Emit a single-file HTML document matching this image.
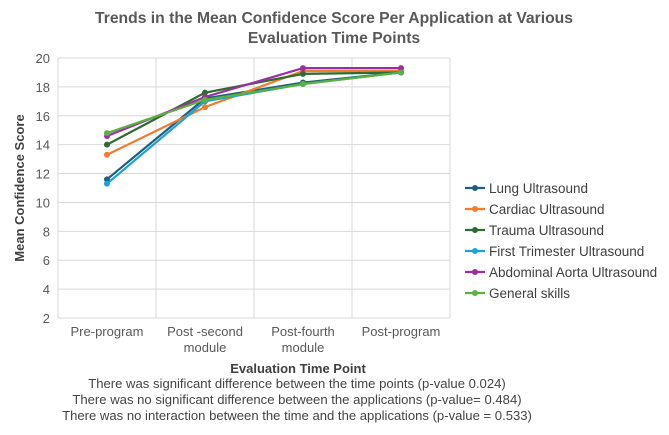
<!DOCTYPE html>
<html><head><meta charset="utf-8"><style>
body{margin:0;background:#fff;font-family:"Liberation Sans",sans-serif}
svg{display:block}
</style></head><body>
<svg id="chart" width="669" height="435" font-family="Liberation Sans, sans-serif">
<text x="334" y="23" text-anchor="middle" font-size="15.7" font-weight="bold" fill="#595959">Trends in the Mean Confidence Score Per Application at Various</text>
<text x="334" y="43" text-anchor="middle" font-size="15.7" font-weight="bold" fill="#595959">Evaluation Time Points</text>
<g id="grid"></g><g id="series"></g><g id="legend"></g>
<text transform="translate(24,188) rotate(-90)" text-anchor="middle" font-size="13" font-weight="bold" fill="#404040">Mean Confidence Score</text>
<text x="298" y="373" text-anchor="middle" font-size="13" font-weight="bold" fill="#404040">Evaluation Time Point</text>
<text x="297" y="388" text-anchor="middle" font-size="13.1" fill="#444">There was significant difference between the time points (p-value 0.024)</text>
<text x="297" y="404" text-anchor="middle" font-size="13.1" fill="#444">There was no significant difference between the applications (p-value= 0.484)</text>
<text x="297" y="420" text-anchor="middle" font-size="13.1" fill="#444">There was no interaction between the time and the applications (p-value = 0.533)</text>
</svg>
<script>
const categories=[["Pre-program"],["Post -second","module"],["Post-fourth","module"],["Post-program"]];
const yTicks=[2,4,6,8,10,12,14,16,18,20];
const seriesNames=["Lung Ultrasound","Cardiac Ultrasound","Trauma Ultrasound","First Trimester Ultrasound","Abdominal Aorta Ultrasound","General skills"];
const lung=[11.6,17.2,18.3,19.0];
const cardiac=[13.3,16.6,19.1,19.1];
const trauma=[14.0,17.6,18.9,19.0];
const firstTri=[11.3,17.0,18.2,19.0];
const aorta=[14.6,17.3,19.3,19.3];
const general=[14.8,17.1,18.2,19.0];
const seriesValues=[lung,cardiac,trauma,firstTri,aorta,general];
const colors=["#1f5f7a","#ed7d31","#2e6b2e","#1ea1d6","#9b2ea3","#5cb040"];
const NS="http://www.w3.org/2000/svg";
const L=58,R=450,T=58,B=318;
const x=i=>L+(R-L)/categories.length*(i+0.5);
const y=v=>B-(v-2)/18*(B-T);
function mk(t,a,p){const e=document.createElementNS(NS,t);for(const k in a)e.setAttribute(k,a[k]);p.appendChild(e);return e;}
const grid=document.getElementById('grid');
yTicks.forEach(v=>{
  const l=mk('line',{x1:L,x2:R,y1:y(v),y2:y(v),stroke:'#d9d9d9'},grid);
  
  
  const t=mk('text',{x:L-8,y:y(v)+5,'text-anchor':'end','font-size':13,fill:'#595959'},grid);t.textContent=v;
  
  
});
for(let i=0;i<=categories.length;i++){
  const gx=L+(R-L)/categories.length*i;
  const l=mk('line',{x1:gx,x2:gx,y1:T,y2:B,stroke:'#d9d9d9'},grid);
  
  
}
categories.forEach((c,i)=>{
  c.forEach((s,j)=>{
    const t=mk('text',{x:x(i),y:B+18+j*16,'text-anchor':'middle','font-size':13,fill:'#595959'},grid);t.textContent=s;
    
    
  });
});
const sg=document.getElementById('series');
seriesValues.forEach((vals,si)=>{
  const g=mk('g',{},sg);
  
  
  const pl=mk('polyline',{points:vals.map((v,i)=>x(i)+','+y(v)).join(' '),fill:'none',stroke:colors[si],'stroke-width':2.2},g);
  
  
  vals.forEach((v,i)=>{
    const c=mk('circle',{cx:x(i),cy:y(v),r:3,fill:colors[si]},g);
    
    
  });
});
const lg=document.getElementById('legend');
seriesNames.forEach((n,i)=>{
  const g=mk('g',{},lg);
  
  
  const yy=188+i*21;
  mk('line',{x1:465,x2:485,y1:yy,y2:yy,stroke:colors[i],'stroke-width':2.2},g);
  mk('circle',{cx:475,cy:yy,r:3,fill:colors[i]},g);
  const t=mk('text',{x:489,y:yy+5,'font-size':13.5,fill:'#404040'},g);t.textContent=n;
});
</script>
</body></html>
